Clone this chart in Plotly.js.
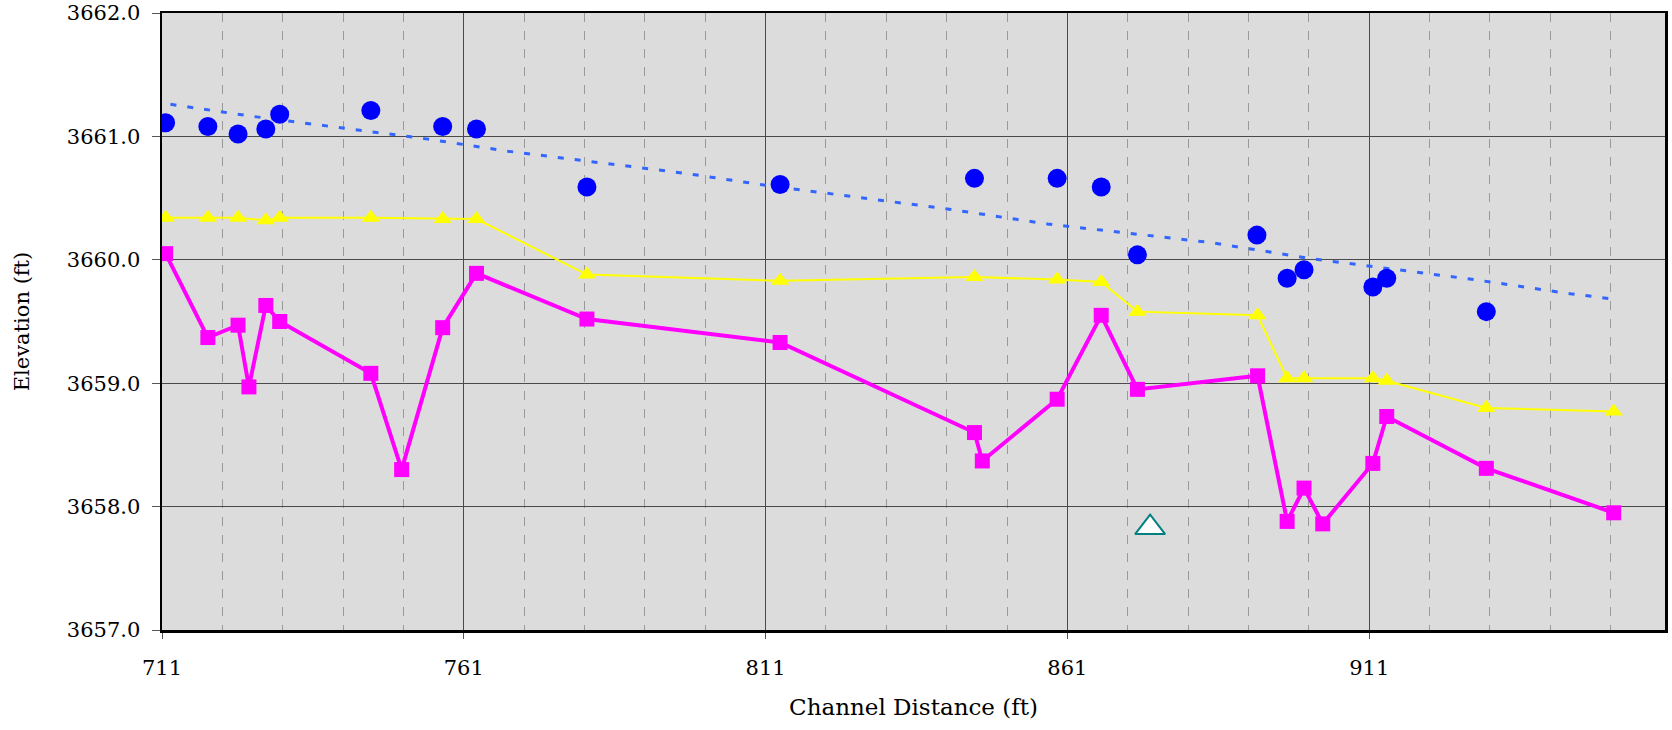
<!DOCTYPE html>
<html>
<head>
<meta charset="utf-8">
<script src="https://cdn.plot.ly/plotly-3.0.1.min.js"></script>
<style>
  html, body { margin: 0; padding: 0; background: #ffffff; }
  #chart { width: 1672px; height: 730px; }
</style>
</head>
<body>
<div id="chart"></div>
<script>
// Observed water surface (blue ellipses)
const wsStation = [711.6, 718.6, 723.6, 728.2, 730.5, 745.6, 757.5, 763.1, 781.4, 813.4,
                   845.6, 859.3, 866.6, 872.6, 892.4, 897.4, 900.2, 911.6, 913.9, 930.4];
const wsElev = [3661.11, 3661.08, 3661.02, 3661.06, 3661.18, 3661.21, 3661.08, 3661.06, 3660.59, 3660.61,
                3660.66, 3660.66, 3660.59, 3660.04, 3660.20, 3659.85, 3659.92, 3659.78, 3659.85, 3659.58];

// Water surface trend (dotted blue line)
const trendStation = [712.4, 725.6, 754.8, 768.3, 797.8, 811.6, 841.4, 857.7, 884.7, 901.3, 928.3, 944.3, 951.8];
const trendElev = [3661.26, 3661.165, 3660.98, 3660.88, 3660.70, 3660.60, 3660.41, 3660.29, 3660.14, 3660.01, 3659.84, 3659.725, 3659.68];

// Yellow triangles line
const yStation = [711.6, 718.6, 723.6, 728.2, 730.5, 745.6, 757.5, 763.1, 781.4, 813.4,
                  845.6, 859.3, 866.6, 872.6, 892.5, 897.4, 900.2, 911.6, 913.9, 930.4, 951.5];
const yElev = [3660.34, 3660.34, 3660.34, 3660.32, 3660.34, 3660.34, 3660.33, 3660.33, 3659.88, 3659.83,
               3659.86, 3659.84, 3659.82, 3659.58, 3659.55, 3659.04, 3659.04, 3659.04, 3659.02, 3658.80, 3658.77];

// Thalweg / bed (magenta squares)
const bedStation = [711.6, 718.6, 723.6, 725.4, 728.2, 730.5, 745.6, 750.7, 757.5, 763.1,
                    781.4, 813.4, 845.6, 846.9, 859.3, 866.6, 872.6, 892.5, 897.4, 900.2,
                    903.3, 911.6, 913.9, 930.4, 951.5];
const bedElev = [3660.05, 3659.37, 3659.47, 3658.97, 3659.63, 3659.50, 3659.08, 3658.30, 3659.45, 3659.89,
                 3659.52, 3659.33, 3658.60, 3658.37, 3658.87, 3659.55, 3658.95, 3659.06, 3657.88, 3658.15,
                 3657.86, 3658.35, 3658.73, 3658.31, 3657.95];

// Single open teal triangle
const ptStation = [874.7];
const ptElev = [3657.83];

// Axis ticks
const xTick0 = 711, xDtick = 50, xMinorDtick = 10;
const xRange = [711, 960];
const yRange = [3657, 3662];

const traces = [
  { x: trendStation, y: trendElev, mode: 'lines', type: 'scatter',
    line: { color: '#3366FF', width: 3, dash: '6px,11px' }, hoverinfo: 'skip' },
  { x: yStation, y: yElev, mode: 'lines+markers', type: 'scatter',
    line: { color: '#FFFF00', width: 2 },
    marker: { symbol: 'triangle-up', size: 16, color: '#FFFF00' } },
  { x: bedStation, y: bedElev, mode: 'lines+markers', type: 'scatter',
    line: { color: '#FF00FF', width: 4 },
    marker: { symbol: 'square', size: 15, color: '#FF00FF' } },
  { x: wsStation, y: wsElev, mode: 'markers', type: 'scatter',
    marker: { symbol: 'circle', size: 19, color: '#0000FF' } },
  { x: ptStation, y: ptElev, mode: 'markers', type: 'scatter',
    marker: { symbol: 'triangle-up', size: 26, color: '#FFFFFF', line: { color: '#008080', width: 2 } } }
];

const fontFam = 'DejaVu Serif, Liberation Serif, serif';

const layout = {
  width: 1672, height: 730,
  margin: { l: 162, r: 7, t: 13, b: 100 },
  paper_bgcolor: '#FFFFFF',
  plot_bgcolor: '#DCDCDC',
  showlegend: false,
  font: { family: fontFam, color: '#000000', size: 21 },
  xaxis: {
    range: xRange, tick0: xTick0, dtick: xDtick, tickmode: 'linear',
    showgrid: true, gridcolor: '#4a4a4a', gridwidth: 1,
    zeroline: false,
    showline: true, linecolor: '#000000', linewidth: 2.5, mirror: true,
    ticks: 'outside', ticklen: 6, tickcolor: '#555555', tickwidth: 1,
    ticklabelstandoff: 11,
    tickfont: { family: fontFam, size: 21, color: '#000000' },
    minor: { tick0: xTick0, dtick: xMinorDtick, showgrid: true, gridcolor: '#9a9a9a', griddash: '9px,9px', gridwidth: 1, ticks: '' },
    title: { text: 'Channel Distance (ft)', font: { family: fontFam, size: 23, color: '#000000' }, standoff: 20 }
  },
  yaxis: {
    range: yRange, dtick: 1, tick0: 3657, tickmode: 'linear', tickformat: '.1f',
    showgrid: true, gridcolor: '#4a4a4a', gridwidth: 1,
    zeroline: false,
    showline: true, linecolor: '#000000', linewidth: 2.5, mirror: true,
    ticks: 'outside', ticklen: 8, tickcolor: '#555555', tickwidth: 1,
    ticklabelstandoff: 7,
    tickfont: { family: fontFam, size: 21, color: '#000000' },
    title: { text: 'Elevation (ft)', font: { family: fontFam, size: 21, color: '#000000' }, standoff: 32 }
  }
};

Plotly.newPlot('chart', traces, layout, { staticPlot: true, displayModeBar: false });
</script>
</body>
</html>
